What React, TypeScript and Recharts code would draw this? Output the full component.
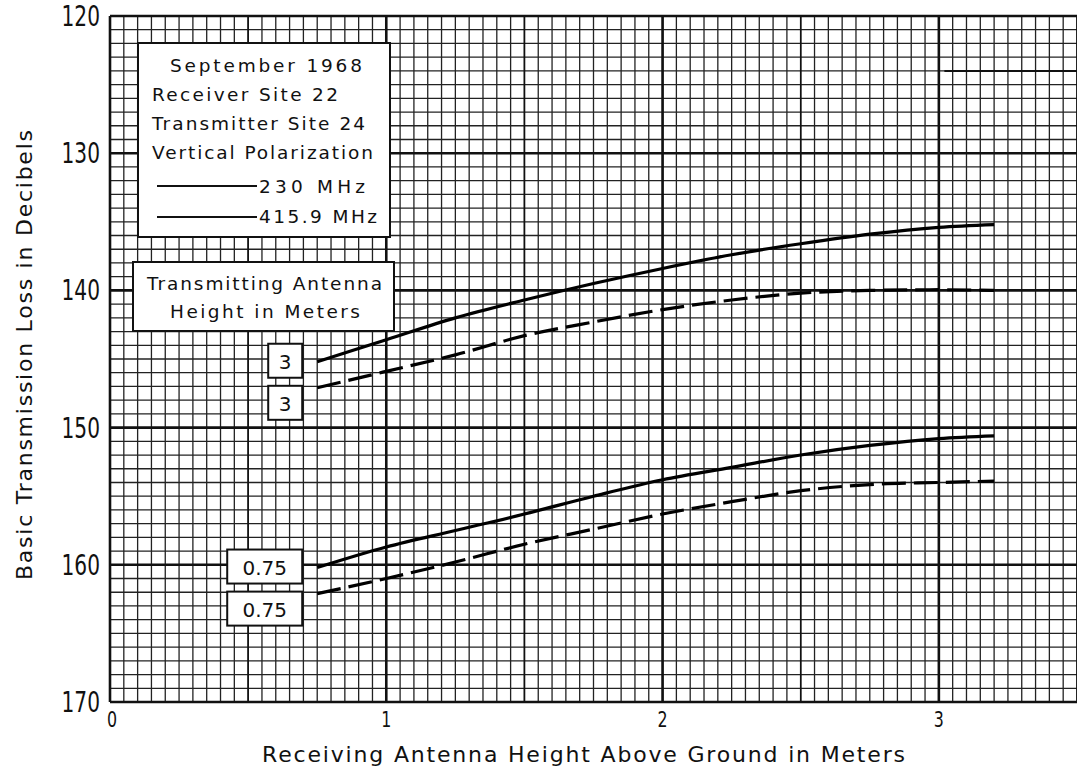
// App.tsx - basic transmission loss vs receiving antenna height
import { CartesianGrid, Line, LineChart, ReferenceDot, ReferenceLine, XAxis, YAxis } from 'recharts';

// receiving antenna height (m)
const RX_HEIGHT = [0.75, 1.0, 1.25, 1.5, 1.75, 2.0, 2.25, 2.5, 2.75, 3.0, 3.2];
// basic transmission loss (dB)
const LOSS_230_TX3 = [145.2, 143.6, 142.0, 140.7, 139.5, 138.4, 137.4, 136.6, 135.9, 135.4, 135.2];
const LOSS_416_TX3 = [147.1, 145.9, 144.7, 143.3, 142.3, 141.4, 140.7, 140.2, 140.0, 139.95, 140.0];
const LOSS_230_TX075 = [160.2, 158.7, 157.5, 156.3, 155.0, 153.8, 152.9, 152.0, 151.3, 150.8, 150.6];
const LOSS_416_TX075 = [162.1, 161.0, 159.8, 158.5, 157.4, 156.3, 155.4, 154.6, 154.15, 154.0, 153.9];

const X_LABELS = [0, 1, 2, 3];
const Y_LABELS = [120, 130, 140, 150, 160, 170];
const X_HALF = [0.5, 1.5, 2.5, 3.5];

// minor grid: 0.05 m and 1 dB
const GRID_X = Array.from({ length: 71 }, (_, i) => Math.round(i * 5) / 100);
const GRID_Y = Array.from({ length: 51 }, (_, i) => 120 + i);

const data = RX_HEIGHT.map((h, i) => ({
  h,
  s3: LOSS_230_TX3[i],
  d3: LOSS_416_TX3[i],
  s075: LOSS_230_TX075[i],
  d075: LOSS_416_TX075[i],
}));

const INK = '#111';
const LETTER = "'DejaVu Sans', 'Liberation Sans', sans-serif";
const NARROW = "'Liberation Sans Narrow', 'DejaVu Sans Condensed', 'Liberation Sans', sans-serif";

const YTick = ({ x, y, payload }: any) => {
  if (!Y_LABELS.includes(payload.value)) return <g />;
  return (
    <text transform={`translate(${x - 10},${y + 10}) scale(0.8,1)`} textAnchor="end" fontFamily={NARROW} fontSize={28} fill={INK}>
      {payload.value}
    </text>
  );
};

const XTick = ({ x, y, payload }: any) => {
  const v = payload.value;
  if (Math.abs(v - Math.round(v)) > 1e-6 || v > 3) return <g />;
  return (
    <text transform={`translate(${x + (v === 0 ? 2 : 0)},${y + 25}) scale(0.8,1)`} textAnchor="middle" fontFamily={NARROW} fontSize={22} fill={INK}>
      {Math.round(v)}
    </text>
  );
};

// little boxed height label to the left of a curve's first point
const heightBox = (label: string, dy: number) => (props: any) => {
  const { cx, cy } = props;
  const w = label.length > 1 ? 75 : 34;
  const right = cx - 15;
  const top = cy + dy - 17;
  return (
    <g>
      <rect x={right - w} y={top} width={w} height={34} fill="#fff" stroke={INK} strokeWidth={2} />
      <text x={right - w / 2} y={top + 25} textAnchor="middle" fontFamily={LETTER} fontSize={20} fill={INK}>
        {label}
      </text>
    </g>
  );
};

export default function App() {
  return (
    <div style={{ position: 'absolute', left: 0, top: 0, width: 1077, height: 772, background: '#fff', overflow: 'hidden' }}>
      <LineChart width={1077} height={772} data={data} margin={{ top: 16, right: 0, bottom: 0, left: 0 }}>
        <CartesianGrid stroke="#222" strokeWidth={1.3} />
        <XAxis
          dataKey="h"
          type="number"
          domain={[0, 3.5]}
          ticks={GRID_X}
          interval={0}
          height={70}
          tickSize={0}
          tickMargin={0}
          axisLine={false}
          tick={<XTick />}
        />
        <YAxis
          type="number"
          domain={[120, 170]}
          reversed
          ticks={GRID_Y}
          interval={0}
          width={110}
          tickSize={0}
          tickMargin={0}
          axisLine={false}
          tick={<YTick />}
        />
        {X_HALF.map((v) => (
          <ReferenceLine key={`xh${v}`} x={v} stroke={INK} strokeWidth={1.6} />
        ))}
        {X_LABELS.map((v) => (
          <ReferenceLine key={`x${v}`} x={v} stroke={INK} strokeWidth={2.6} />
        ))}
        {Y_LABELS.map((v) => (
          <ReferenceLine key={`y${v}`} y={v} stroke={INK} strokeWidth={2.6} />
        ))}
        <ReferenceLine segment={[{ x: 3.02, y: 124 }, { x: 3.5, y: 124 }]} stroke={INK} strokeWidth={2} />

        <Line dataKey="s3" type="monotone" stroke="#000" strokeWidth={3.2} dot={false} activeDot={false} isAnimationActive={false} />
        <Line dataKey="d3" type="monotone" stroke="#000" strokeWidth={3.2} strokeDasharray="24 8" dot={false} activeDot={false} isAnimationActive={false} />
        <Line dataKey="s075" type="monotone" stroke="#000" strokeWidth={3.2} dot={false} activeDot={false} isAnimationActive={false} />
        <Line dataKey="d075" type="monotone" stroke="#000" strokeWidth={3.2} strokeDasharray="24 8" dot={false} activeDot={false} isAnimationActive={false} />

        <ReferenceDot x={RX_HEIGHT[0]} y={LOSS_230_TX3[0]} shape={heightBox('3', -1)} />
        <ReferenceDot x={RX_HEIGHT[0]} y={LOSS_416_TX3[0]} shape={heightBox('3', 15)} />
        <ReferenceDot x={RX_HEIGHT[0]} y={LOSS_230_TX075[0]} shape={heightBox('0.75', -1)} />
        <ReferenceDot x={RX_HEIGHT[0]} y={LOSS_416_TX075[0]} shape={heightBox('0.75', 15)} />
      </LineChart>

      <svg width={1077} height={772} style={{ position: 'absolute', left: 0, top: 0, pointerEvents: 'none' }}>
        {/* axis titles */}
        <text x={262} y={762} textLength={643} lengthAdjust="spacing" fontFamily={LETTER} fontSize={22} fill={INK}>
          Receiving Antenna Height Above Ground in Meters
        </text>
        <text
          transform="translate(32,580) rotate(-90)"
          textLength={450}
          lengthAdjust="spacing"
          fontFamily={LETTER}
          fontSize={22}
          fill={INK}
        >
          Basic Transmission Loss in Decibels
        </text>

        {/* info box */}
        <rect x={138} y={43} width={252} height={194} fill="#fff" stroke={INK} strokeWidth={2} />
        <g fontFamily={LETTER} fontSize={18.5} fill={INK}>
          <text x={170} y={72} textLength={192} lengthAdjust="spacing">September 1968</text>
          <text x={152} y={101} textLength={186} lengthAdjust="spacing">Receiver Site 22</text>
          <text x={152} y={130} textLength={213} lengthAdjust="spacing">Transmitter Site 24</text>
          <text x={152} y={159} textLength={221} lengthAdjust="spacing">Vertical Polarization</text>
          <text x={259} y={193} textLength={106} lengthAdjust="spacing">230 MHz</text>
          <text x={259} y={223} textLength={118} lengthAdjust="spacing">415.9 MHz</text>
        </g>
        <line x1={157} y1={186} x2={257} y2={186} stroke={INK} strokeWidth={2} />
        <line x1={157} y1={217} x2={257} y2={217} stroke={INK} strokeWidth={2} />

        <rect x={133} y={262} width={261} height={69} fill="#fff" stroke={INK} strokeWidth={2} />
        <g fontFamily={LETTER} fontSize={18.5} fill={INK}>
          <text x={147} y={290} textLength={235} lengthAdjust="spacing">Transmitting Antenna</text>
          <text x={170} y={318} textLength={190} lengthAdjust="spacing">Height in Meters</text>
        </g>
      </svg>
    </div>
  );
}
